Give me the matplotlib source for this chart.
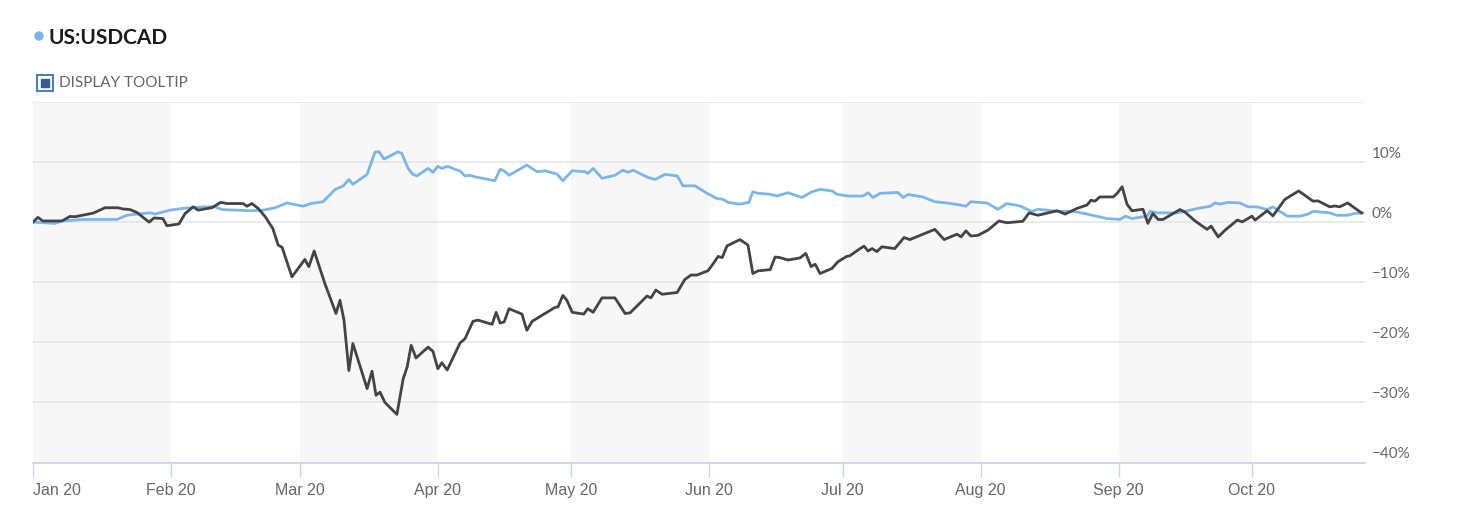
import matplotlib
matplotlib.use("Agg")
import matplotlib.pyplot as plt
import matplotlib.dates as mdates
import matplotlib.transforms as mtransforms
from matplotlib.patches import Rectangle, Circle
import numpy as np

# days since 2020-01-01 and % change
black_days = [0, 1.1, 2.2, 6.5, 8.3, 9.4, 13.5, 16.2, 19.1, 20.2, 21.8, 23.4, 26.1, 27.2,
              29.2, 30.1, 32.8, 34.2, 36.0, 37.1, 40.2, 42.2, 43.6, 47.2, 48.1, 49.2, 50.6,
              52.2, 53.9, 55.1, 56.0, 58.2, 61.1, 62.0, 63.2, 65.6, 68.1, 69.0, 69.9, 71.0,
              71.9, 75.1, 76.2, 77.1, 78.0, 79.1, 81.8, 83.2, 84.1, 85.0, 86.1, 88.8, 89.9,
              91.0, 91.9, 93.1, 96.0, 97.1, 98.9, 100.0, 103.2, 104.1, 105.0, 105.9, 107.0,
              109.9, 111.0, 112.2, 115.5, 117.3, 118.0, 119.1, 120.0, 121.2, 123.8, 124.7,
              125.9, 127.9, 130.8, 133.1, 134.2, 138.0, 138.9, 140.0, 141.4, 144.8, 146.5,
              147.9, 149.2, 151.7, 152.8, 154.0, 154.9, 156.0, 158.9, 160.7, 161.8, 163.0,
              165.7, 166.8, 167.9, 169.7, 172.4, 173.7, 174.9, 175.8, 176.9, 179.6, 180.9,
              182.9, 183.6, 185.9, 186.8, 187.7, 188.6, 189.7, 190.8, 193.7, 195.8, 197.1,
              202.7, 204.8, 207.7, 208.6, 209.7, 210.8, 212.4, 214.7, 217.1, 218.9, 222.5,
              223.9, 225.9, 230.2, 232.0, 234.7, 236.9, 237.8, 238.7, 239.8, 242.8, 243.7,
              244.8, 245.9, 247.0, 249.5, 250.6, 251.7, 252.9, 254.0, 257.8, 258.9, 261.2,
              263.9, 264.8, 266.4, 268.0, 270.7, 271.8, 274.0, 274.7, 277.4, 278.7, 281.4,
              284.5, 287.7, 288.8, 291.5, 292.6, 293.7, 295.5, 298.6]
black_vals = [0.0, 0.8, 0.2, 0.2, 0.95, 0.9, 1.5, 2.4, 2.4, 2.2, 2.1, 1.6, 0.0, 0.7,
              0.6, -0.6, -0.3, 1.45, 2.55, 2.0, 2.4, 3.3, 3.1, 3.1, 2.65, 3.1, 2.3,
              0.9, -1.05, -3.8, -4.2, -9.1, -6.2, -7.4, -4.8, -10.2, -15.2, -13.0, -16.3, -24.7,
              -20.2, -27.7, -24.8, -28.8, -28.3, -30.0, -32.0, -26.1, -24.1, -20.5, -22.6, -20.8, -21.5,
              -24.4, -23.4, -24.6, -20.1, -19.4, -16.5, -16.3, -17.0, -15.0, -16.8, -16.6, -14.4,
              -15.3, -18.0, -16.5, -15.0, -14.2, -14.1, -12.2, -13.0, -15.0, -15.3, -14.4,
              -15.0, -12.6, -12.6, -15.2, -15.1, -12.3, -12.6, -11.3, -12.0, -11.7, -9.55,
              -8.8, -8.8, -8.1, -7.0, -5.7, -5.9, -3.95, -2.9, -3.8, -8.55, -8.1,
              -7.9, -5.8, -5.9, -6.3, -5.95, -5.2, -7.4, -7.0, -8.55, -7.7, -6.6,
              -5.7, -5.6, -4.4, -4.0, -4.8, -4.4, -4.9, -4.1, -4.4, -2.55, -2.9,
              -1.2, -2.9, -2.0, -2.45, -1.45, -2.3, -2.2, -1.3, 0.2, -0.1, 0.15,
              1.55, 1.15, 1.9, 1.35, 2.3, 2.85, 3.65, 3.5, 4.2, 4.2, 4.8,
              5.9, 3.0, 1.9, 2.15, -0.2, 1.45, 0.45, 0.45, 2.1, 1.7, 0.2,
              -1.2, -0.65, -2.45, -1.3, 0.35, 0.05, 1.0, 0.35, 1.9, 1.05, 3.8,
              5.2, 3.5, 3.55, 2.55, 2.7, 2.55, 3.2, 1.55]

blue_days = [0, 4.9, 6.7, 11.2, 14.4, 18.9, 21.1, 23.4, 26.3, 27.4, 30.8, 33.7, 38.2, 40.9,
             42.5, 45.9, 48.8, 51.7, 54.4, 57.1, 60.7, 62.5, 65.2, 67.9, 69.7, 71.0, 71.9,
             75.1, 76.9, 77.8, 78.9, 82.0, 82.9, 84.3, 85.4, 86.3, 88.8, 89.9, 91.0, 91.9,
             93.1, 96.0, 97.1, 98.2, 99.3, 103.8, 105.0, 105.9, 107.0, 111.0, 113.3, 115.1,
             117.8, 119.1, 121.2, 124.1, 124.7, 125.9, 127.9, 130.8, 132.6, 133.7, 134.9,
             138.2, 139.8, 142.1, 144.8, 146.1, 148.8, 151.5, 153.7, 155.1, 156.2, 158.9,
             160.9, 161.8, 163.0, 165.7, 167.2, 169.7, 172.8, 175.1, 176.9, 179.6, 180.7,
             183.2, 186.6, 187.7, 188.8, 190.4, 194.4, 195.6, 196.7, 200.0, 202.7, 205.4,
             208.4, 209.7, 210.8, 214.4, 216.9, 218.9, 221.8, 224.5, 225.9, 230.2, 233.8,
             236.9, 241.4, 244.3, 245.6, 247.0, 250.4, 251.1, 252.9, 257.1, 258.9, 261.9,
             264.6, 265.7, 266.8, 268.6, 271.3, 273.1, 275.1, 277.4, 278.7, 281.9, 284.8,
             286.6, 287.7, 291.5, 293.0, 295.5, 297.1, 298.9]
blue_vals = [0.0, -0.2, 0.2, 0.45, 0.45, 0.45, 1.15, 1.35, 1.55, 1.35, 2.0, 2.3, 2.55, 2.55,
             2.1, 2.0, 1.9, 2.0, 2.4, 3.2, 2.65, 3.1, 3.4, 5.45, 6.0, 7.1, 6.3,
             7.95, 11.7, 11.7, 10.5, 11.7, 11.45, 8.95, 7.95, 7.7, 8.95, 8.3, 9.3, 8.95,
             9.3, 8.5, 7.7, 7.8, 7.55, 6.9, 8.8, 8.55, 7.8, 9.5, 8.4, 8.55,
             8.0, 6.9, 8.55, 8.4, 8.1, 8.95, 7.3, 7.8, 8.65, 8.3, 8.65,
             7.45, 7.1, 7.95, 7.7, 6.05, 6.05, 4.8, 3.95, 3.8, 3.3, 3.0,
             3.3, 5.05, 4.8, 4.65, 4.35, 4.9, 4.1, 5.05, 5.45, 5.2, 4.65,
             4.35, 4.35, 4.9, 4.1, 4.8, 4.95, 4.1, 4.6, 4.2, 3.4, 3.2,
             2.85, 2.65, 3.4, 3.2, 2.15, 3.1, 2.7, 1.8, 2.15, 1.8, 1.8,
             1.35, 0.6, 0.45, 1.0, 0.6, 1.0, 1.8, 1.55, 1.55, 1.8, 2.3,
             2.65, 3.2, 3.0, 3.3, 3.2, 2.55, 2.55, 2.1, 2.55, 1.0, 1.0,
             1.35, 1.8, 1.55, 1.15, 1.15, 1.45, 1.55]

month_starts = ['2020-01-01', '2020-02-01', '2020-03-01', '2020-04-01', '2020-05-01',
                '2020-06-01', '2020-07-01', '2020-08-01', '2020-09-01', '2020-10-01',
                '2020-11-01']
month_labels = ['Jan 20', 'Feb 20', 'Mar 20', 'Apr 20', 'May 20', 'Jun 20',
                'Jul 20', 'Aug 20', 'Sep 20', 'Oct 20']
y_ticks = [-40, -30, -20, -10, 0, 10, 20]
title = 'US:USDCAD'

base = mdates.date2num(np.datetime64('2020-01-01'))
bx = base + np.array(black_days)
ux = base + np.array(blue_days)
months = mdates.date2num(np.array(month_starts, dtype='datetime64[D]'))

fig = plt.figure(figsize=(14.71, 5.08), dpi=100)
ax = fig.add_axes([33 / 1471, 45.5 / 508, 1332 / 1471, 360.5 / 508])

# alternating month bands
for i in range(0, len(months) - 1, 2):
    ax.axvspan(months[i], months[i + 1], color='#f7f7f7', lw=0, zorder=0)

ax.plot(ux, blue_vals, color='#7cb5ec', lw=2.0, zorder=3, solid_joinstyle='round')
ax.plot(bx, black_vals, color='#434348', lw=2.0, zorder=4, solid_joinstyle='round')

ax.set_xlim(base, base + 299.4)
ax.set_ylim(-40, 20)
ax.set_yticks(y_ticks)
ax.set_yticklabels([])
ax.grid(axis='y', color='#e6e6e6', lw=1.2, zorder=1)
ax.tick_params(axis='y', length=0)
for s in ['top', 'right', 'left']:
    ax.spines[s].set_visible(False)
ax.spines['bottom'].set_color('#ccd6eb')
ax.spines['bottom'].set_linewidth(1.3)
ax.spines['bottom'].set_zorder(5)

ax.set_xticks(months[:-1])
ax.set_xticklabels(month_labels, fontsize=11.5, color='#666666',
                   family=['Liberation Sans', 'DejaVu Sans'])
ax.tick_params(axis='x', length=10, width=1, color='#ccd6eb', pad=5)
ax.get_xticklabels()[0].set_ha('left')

# right side percentage labels, sitting just above each gridline
lab_tr = mtransforms.offset_copy(ax.get_yaxis_transform(), fig=fig, x=7, y=8, units='dots')
for v in y_ticks[:-1]:
    txt = f'{v}%'.replace('-', '\u2212')
    ax.text(1.0, v, txt, transform=lab_tr, ha='left', va='center', fontsize=11,
            color='#666666', family=['Lato', 'DejaVu Sans'])

# header: series dot + name, tooltip checkbox
fig.patches.append(Circle((39, 508 - 36), 4, transform=None, color='#7cb5ec'))
fig.text(49 / 1471, 1 - 38 / 508, title, fontsize=15, fontweight='bold', color='#1a1a1a',
         family=['Lato', 'DejaVu Sans'], va='center', ha='left')
fig.patches.append(Rectangle((36.5, 508 - 90.5), 16, 16, transform=None, fill=False,
                             edgecolor='#4a7fb0', lw=1.5))
fig.patches.append(Rectangle((40.5, 508 - 86.5), 8, 8, transform=None, color='#2f5f8f'))
fig.text(59 / 1471, 1 - 83 / 508, 'DISPLAY TOOLTIP', fontsize=11, color='#666666',
         family=['Lato', 'DejaVu Sans'], va='center', ha='left')

fig.savefig('out.png', dpi=100, facecolor='white')
